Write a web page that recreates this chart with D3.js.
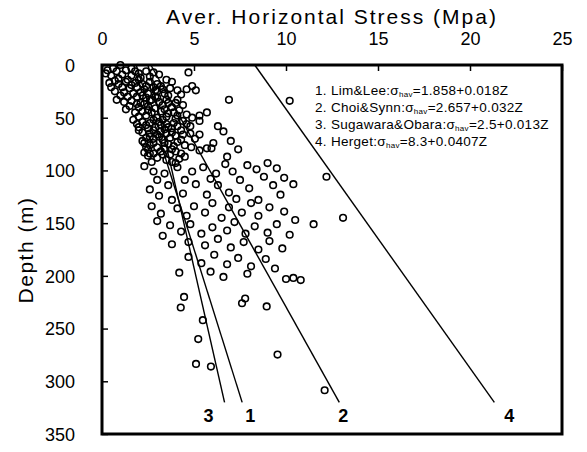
<!DOCTYPE html>
<html><head><meta charset="utf-8">
<script src="https://cdn.jsdelivr.net/npm/d3@7"></script>
<style>body{margin:0;background:#fff}svg{display:block}</style>
</head><body><svg id="c" width="587" height="452"></svg>
<script>
const xTicks=[0,5,10,15,20,25];
const yTicks=[0,50,100,150,200,250,300,350];
const lineIds=["1","2","3","4"];
const lineAuthors=["Lim&Lee","Choi&Synn","Sugawara&Obara","Herget"];
const lineEquations=["1.858+0.018Z","2.657+0.032Z","2.5+0.013Z","8.3+0.0407Z"];
const intercepts=[1.858,2.657,2.5,8.3];
const slopes=[0.018,0.032,0.013,0.0407];
const lineDepthEnd=320;
const stress=[
1.0,0.3,0.8,1.3,2.0,2.4,0.5,1.1,1.6,2.1,2.6,3.1,3.5,4.7,0.9,1.4,
0.4,0.9,1.3,1.8,2.2,2.6,3.0,3.8,1.1,1.5,1.9,2.3,2.8,3.2,3.7,4.1,4.6,4.9,5.1,0.7,1.2,1.7,2.1,2.5,3.0,3.4,4.3,1.4,1.9,2.4,2.9,
0.8,1.2,1.6,2.1,2.6,3.1,3.5,4.1,6.9,10.2,1.5,2.0,2.5,2.9,3.3,3.8,4.0,2.2,2.7,3.2,3.6,4.2,4.6,5.7,5.3,2.4,3.0,3.5,4.0,
1.7,2.2,2.6,3.1,3.5,3.9,4.4,5.3,2.0,2.5,2.9,3.4,3.8,4.3,4.8,6.3,2.2,2.6,3.0,3.5,4.0,4.8,5.3,6.6,2.4,2.8,3.3,
2.3,2.6,3.0,3.6,4.1,5.05,6.05,2.5,2.3,2.8,3.2,3.8,4.3,4.85,5.3,5.7,5.95,3.0,3.5,4.5,6.8,2.7,4.0,7.4,7.0,
0.6,1.6,0.2,1.8,2.8,0.7,1.6,2.0,2.4,2.9,3.3,3.6,0.5,1.0,2.2,2.7,3.0,1.9,2.3,3.6,4.4,1.3,1.8,2.5,3.4,3.9,2.0,2.8,3.3,4.1,4.9,
1.9,2.4,3.2,3.6,4.1,4.6,2.0,2.8,3.2,3.8,4.4,2.6,3.1,3.7,4.3,2.2,2.8,3.4,3.9,4.5,2.4,3.4,4.0,3.7,4.2,3.3,3.8,2.5,2.6,
2.3,2.8,3.4,3.0,3.6,2.6,3.1,4.1,4.9,4.5,5.1,5.5,6.2,6.7,7.1,7.9,8.4,9.0,9.5,8.8,9.9,9.3,8.0,7.5,6.9,6.3,5.7,4.4,9.7,8.5,10.4,12.2,3.8,5.9,7.3,
2.7,3.2,3.0,3.7,4.1,4.6,5.0,5.6,6.0,6.5,6.9,7.6,8.1,8.5,9.1,9.9,10.5,11.5,13.1,4.3,4.8,5.4,6.0,6.8,7.2,7.8,8.3,9.0,9.5,10.2,4.7,5.6,6.3,7.0,7.7,8.5,9.1,9.8,3.8,3.3,
4.7,5.4,6.1,6.8,7.4,8.1,8.9,9.4,5.9,6.6,7.9,4.2,10.0,10.4,10.8,
4.46,4.28,5.48,5.23,5.11,5.92,7.61,7.78,8.95,9.54,12.1
];
const depth=[
0,5,6,5,8,6,10,9,10,12,11,9,14,7,13,14,
17,18,16,17,18,16,18,16,21,22,21,23,21,20,22,24,23,20,24,25,26,27,26,27,25,27,28,30,30,31,30,
33,35,34,36,34,35,33,33,33,34,39,40,39,41,38,40,36,44,45,44,46,43,47,45,48,48,50,49,51,
52,54,55,54,56,55,53,53,59,60,59,61,60,62,58,58,64,65,66,65,67,65,66,63,69,70,71,
74,76,78,75,73,70,74,80,83,84,82,80,84,78,81,79,79,88,90,87,87,92,93,80,72,
3,3,8,6,7,15,19,14,20,24,23,29,21,29,29,33,31,37,37,36,38,42,45,43,42,45,49,52,52,48,50,
56,57,57,59,58,56,62,62,63,64,66,68,68,69,71,72,74,74,77,76,78,79,82,85,89,85,92,86,84,
96,101,103,109,114,118,124,97,101,109,113,97,103,94,101,95,99,93,98,106,107,114,117,109,121,114,123,122,123,128,113,106,128,108,127,
134,141,148,152,136,143,134,140,131,145,135,140,131,143,135,139,147,151,145,158,151,160,154,157,149,160,153,159,151,161,168,171,165,173,168,175,167,174,170,162,
182,188,180,189,183,191,184,193,196,201,198,197,203,202,204,
220,230,242,260,283.5,286,226,221.5,229,274.7,308.5
];

const svg=d3.select("#c");
const L=102,R=562,T=65,B=434;
const x=d3.scaleLinear().domain([0,25]).range([L,R]);
const y=d3.scaleLinear().domain([0,350]).range([T,B]);
const font="'Liberation Sans', Arial, sans-serif";

// axes
const xa=svg.append("g").attr("transform",`translate(0,${T})`)
  .call(d3.axisTop(x).tickValues(xTicks).tickSizeInner(-6).tickSizeOuter(0).tickPadding(20));
const ya=svg.append("g").attr("transform",`translate(${L},0)`)
  .call(d3.axisLeft(y).tickValues(yTicks).tickSizeInner(-6).tickSizeOuter(0).tickPadding(27));
[xa,ya].forEach(a=>{
  a.select(".domain").remove();
  a.selectAll(".tick line").attr("stroke","#000").attr("stroke-width",1.5);
  a.selectAll("text").attr("font-family",font).attr("font-size",18).attr("fill","#000");
});
ya.selectAll("text").attr("dy","0.35em");

// points
const pts=stress.map((s,i)=>[s,depth[i]]);
svg.append("g").selectAll("circle").data(pts).join("circle")
  .attr("cx",d=>x(d[0])).attr("cy",d=>y(d[1])).attr("r",3.3)
  .attr("fill","none").attr("stroke","#000").attr("stroke-width",1.6);

// lines
const lineData=lineIds.map((id,i)=>({id,a:intercepts[i],b:slopes[i]}));
svg.append("g").selectAll("line").data(lineData).join("line")
  .attr("x1",d=>x(d.a)).attr("y1",y(0))
  .attr("x2",d=>x(d.a+d.b*lineDepthEnd)).attr("y2",y(lineDepthEnd))
  .attr("stroke","#000").attr("stroke-width",1.4);
const labelDx={"1":8,"2":4,"3":-16,"4":15};
svg.append("g").selectAll("text").data(lineData).join("text")
  .attr("x",d=>x(d.a+d.b*lineDepthEnd)+labelDx[d.id])
  .attr("y",y(lineDepthEnd)+20)
  .attr("text-anchor","middle").attr("font-family",font).attr("font-size",18)
  .attr("font-weight","bold").text(d=>d.id);

// frame
svg.append("rect").attr("x",L).attr("y",T).attr("width",R-L).attr("height",B-T)
  .attr("fill","none").attr("stroke","#000").attr("stroke-width",3);

// legend
const lg=svg.append("g").attr("font-family",font).attr("font-size",13.5).attr("letter-spacing",0.3);
lineIds.forEach((id,i)=>{
  const t=lg.append("text").attr("x",315).attr("y",95+i*17);
  t.append("tspan").text(`${id}. ${lineAuthors[i]}:σ`);
  t.append("tspan").attr("font-size",8).attr("dy",2).text("hav");
  t.append("tspan").attr("dy",-2).text(`=${lineEquations[i]}`);
});

// titles
svg.append("text").attr("x",(L+R)/2).attr("y",24).attr("text-anchor","middle")
  .attr("font-family",font).attr("font-size",21).attr("letter-spacing",2)
  .text("Aver. Horizontal Stress (Mpa)");
svg.append("text").attr("transform","translate(33,250) rotate(-90)").attr("text-anchor","middle")
  .attr("font-family",font).attr("font-size",21).attr("letter-spacing",1.5)
  .text("Depth (m)");
</script></body></html>
